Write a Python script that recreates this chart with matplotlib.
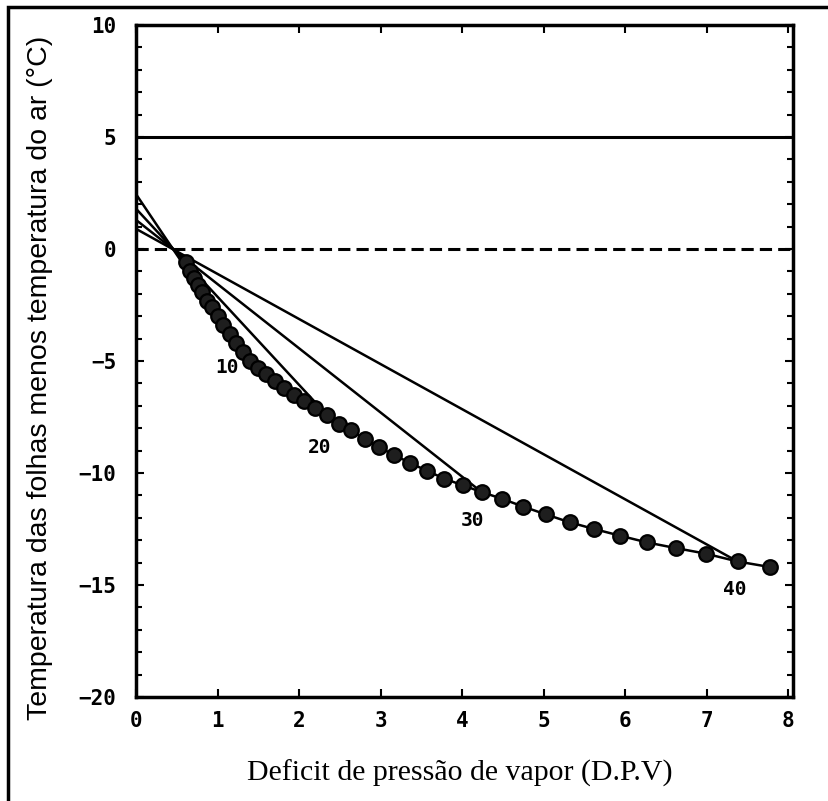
import matplotlib
matplotlib.use("Agg")
import matplotlib.pyplot as plt
from matplotlib.patches import Rectangle

# envelope curve (circles): DPV vs leaf-air temperature difference
dpv_pts = [0.61, 0.66, 0.71, 0.76, 0.81, 0.87, 0.93, 1.00, 1.07, 1.15,
           1.23, 1.31, 1.40, 1.50, 1.60, 1.71, 1.82, 1.94, 2.06, 2.20,
           2.34, 2.49, 2.64, 2.81, 2.98, 3.17, 3.36, 3.57, 3.78, 4.01,
           4.24, 4.49, 4.75, 5.03, 5.32, 5.62, 5.94, 6.27, 6.62, 6.99,
           7.38, 7.78]
dt_pts = [-0.6, -1.0, -1.3, -1.6, -1.9, -2.3, -2.6, -3.0, -3.4, -3.8,
          -4.2, -4.6, -5.0, -5.3, -5.6, -5.9, -6.2, -6.5, -6.8, -7.1,
          -7.4, -7.8, -8.1, -8.5, -8.85, -9.2, -9.55, -9.9, -10.25, -10.55,
          -10.85, -11.15, -11.5, -11.85, -12.2, -12.5, -12.8, -13.1, -13.35, -13.6,
          -13.95, -14.2]

# straight lines for each air temperature: (x0, y0) -> (x1, y1)
line_labels = ["10", "20", "30", "40"]
line_x0 = [0, 0, 0, 0]
line_y0 = [2.45, 1.8, 1.3, 0.9]
line_x1 = [1.23, 2.34, 4.24, 7.38]
line_y1 = [-4.2, -7.4, -10.85, -13.95]
label_x = [1.12, 2.25, 4.13, 7.34]
label_y = [-5.3, -8.85, -12.1, -15.2]

upper_ref = 5
xticks = [0, 1, 2, 3, 4, 5, 6, 7, 8]
yticks = [10, 5, 0, -5, -10, -15, -20]

fig = plt.figure(figsize=(8.29, 8.01), dpi=100)
ax = fig.add_axes([136 / 829, 1 - 697 / 801, 657 / 829, 672 / 801])

ax.axhline(upper_ref, color="black", lw=2.2)
ax.axhline(0, color="black", lw=2.2, ls=(0, (4, 2)))

for x0, y0, x1, y1 in zip(line_x0, line_y0, line_x1, line_y1):
    ax.plot([x0, x1], [y0, y1], color="black", lw=1.8)

ax.plot(dpv_pts, dt_pts, color="black", lw=1.8, marker="o", ms=10.5,
        mfc="#1e1e1e", mec="black", mew=1.6)

mono = dict(family="DejaVu Sans Mono", fontweight="bold", fontsize=14)
for lab, lx, ly in zip(line_labels, label_x, label_y):
    ax.text(lx, ly, lab, ha="center", va="center", **mono)

ax.set_xlim(0, 8.06)
ax.set_ylim(-20, 10)
ax.set_xticks(xticks)
ax.set_yticks(yticks)
ax.set_yticks(range(-20, 11), minor=True)
ax.tick_params(which="both", direction="in", top=True, right=True, width=1.5)
ax.tick_params(which="major", length=6)
ax.tick_params(axis="x", which="major", pad=10)
ax.tick_params(axis="y", which="major", pad=14)
ax.tick_params(which="minor", length=4)
for t in ax.get_xticklabels() + ax.get_yticklabels():
    t.set_fontfamily("DejaVu Sans Mono")
    t.set_fontweight("bold")
    t.set_fontsize(15)
for s in ax.spines.values():
    s.set_linewidth(2.5)

fig.text(40 / 829, 1 - 378 / 801,
         "Temperatura das folhas menos temperatura do ar (°C)",
         rotation=90, ha="center", va="center",
         family="Liberation Sans", fontsize=20.5)
fig.text(460 / 829, 1 - 773 / 801, "Deficit de pressão de vapor (D.P.V)",
         ha="center", va="center", family="Liberation Serif", fontsize=21.5)

# outer border of the figure
fig.patches.append(Rectangle((8 / 829, -0.05), 1.1, 1 - 7 / 801 + 0.05,
                             transform=fig.transFigure, fill=False,
                             edgecolor="black", lw=2.5))

fig.savefig("out.png", dpi=100)
